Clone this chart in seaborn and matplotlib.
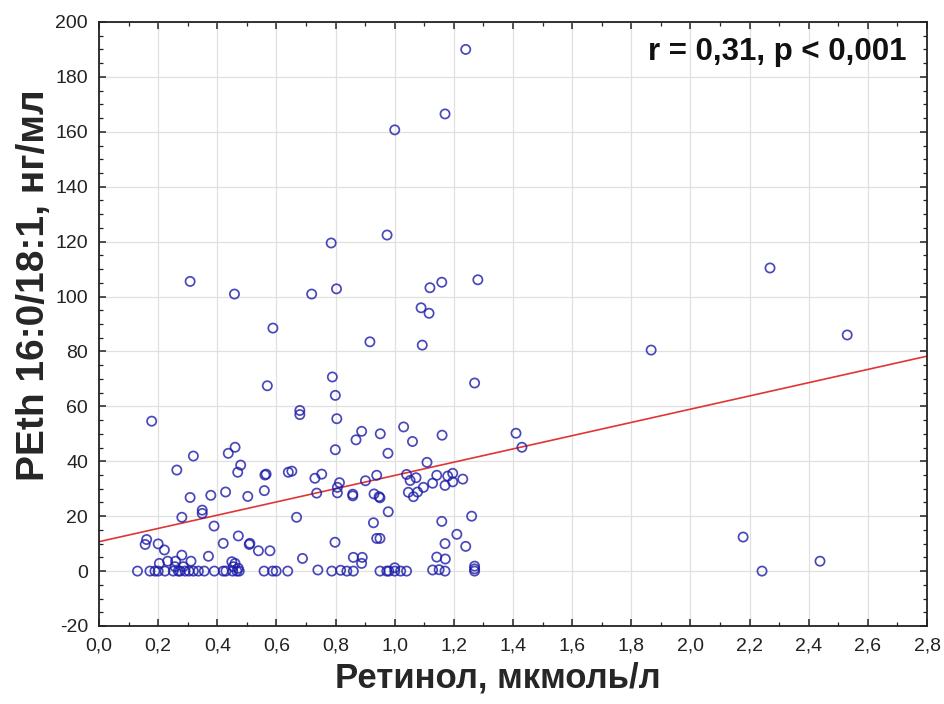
import numpy as np
import pandas as pd
import matplotlib
matplotlib.use("Agg")
import matplotlib.pyplot as plt
import seaborn as sns
from matplotlib.ticker import MultipleLocator, FuncFormatter

# ---- data ----
retinol = [
    1.24, 1.17, 1.00, 0.974, 0.785,
    0.308, 0.458, 0.588, 0.719, 0.803, 1.089, 1.116, 1.119, 1.159, 1.281, 0.916, 1.093,
    0.178, 0.569, 0.679, 0.679, 0.46, 0.437, 0.319, 0.263, 0.479, 0.469, 0.561, 0.565,
    0.64, 0.652, 0.73, 0.753, 0.308, 0.378, 0.428, 0.503, 0.559, 0.736, 0.349,
    0.789, 0.799, 0.804, 1.27, 0.888, 0.869, 0.951, 1.03, 1.06, 1.16, 0.799, 0.977, 1.109,
    0.813, 0.806, 0.806, 0.858, 0.858, 0.901, 0.939, 0.93, 0.947, 0.95, 0.978,
    1.04, 1.052, 1.072, 1.046, 1.063, 1.077, 1.097, 1.128, 1.142, 1.17, 1.179, 1.196, 1.196, 1.23,
    1.41, 1.43, 1.159, 1.26, 1.21, 1.17, 1.24, 0.95, 1.142, 1.171,
    0.95, 0.98, 1.00, 1.00, 1.02, 1.04, 1.128, 1.15, 1.17, 1.27, 1.27, 1.27,
    0.668, 0.928, 0.939, 0.798, 0.51, 0.539, 0.578, 0.688, 0.86, 0.89, 0.888,
    0.558, 0.587, 0.599, 0.638, 0.74, 0.787, 0.817, 0.838, 0.86, 0.973,
    0.28, 0.349, 0.389, 0.161, 0.156, 0.2, 0.221, 0.42, 0.471, 0.508, 0.28, 0.37,
    0.204, 0.232, 0.259, 0.311, 0.285, 0.257, 0.449, 0.46, 0.454, 0.471,
    0.13, 0.172, 0.189, 0.2, 0.223, 0.251, 0.268, 0.274, 0.291, 0.304, 0.319, 0.336,
    0.356, 0.39, 0.42, 0.429, 0.452, 0.474, 0.466,
    1.867, 2.269, 2.53, 2.178, 2.242, 2.438,
]
peth = [
    190, 166.5, 160.7, 122.4, 119.5,
    105.5, 100.9, 88.5, 100.9, 102.8, 95.9, 93.9, 103.2, 105.2, 106.1, 83.5, 82.3,
    54.6, 67.5, 58.5, 57.0, 45.1, 42.9, 41.9, 36.8, 38.6, 36.0, 35.0, 35.3,
    36.0, 36.4, 33.8, 35.3, 26.8, 27.6, 28.8, 27.2, 29.3, 28.4, 22.2,
    70.7, 64.0, 55.5, 68.5, 50.9, 47.8, 50.0, 52.5, 47.2, 49.5, 44.2, 42.9, 39.6,
    32.2, 30.5, 28.5, 28.0, 27.4, 32.9, 34.9, 28.1, 27.1, 26.7, 21.6,
    35.2, 33.0, 34.0, 28.7, 27.1, 28.8, 30.5, 32.0, 34.9, 31.2, 34.6, 35.6, 32.5, 33.5,
    50.2, 45.1, 18.1, 20.0, 13.4, 10.0, 9.0, 11.9, 5.1, 4.4,
    0, 0, 1.2, 0, 0, 0, 0.4, 0.5, 0, 1.8, 0.8, 0,
    19.6, 17.6, 11.9, 10.5, 10.1, 7.4, 7.4, 4.6, 5.0, 5.0, 2.8,
    0, 0, 0, 0, 0.4, 0, 0.3, 0, 0, 0,
    19.6, 21.0, 16.4, 11.5, 9.7, 9.9, 7.7, 10.1, 12.8, 9.7, 5.8, 5.4,
    2.8, 3.6, 3.6, 3.6, 1.6, 1.6, 3.4, 2.8, 1.6, 1.0,
    0, 0, 0, 0, 0, 0, 0, 0, 0, 0, 0, 0,
    0, 0, 0, 0, 0, 0, 0,
    80.5, 110.4, 86.0, 12.4, 0, 3.6,
]
x_ticks = [0.0, 0.2, 0.4, 0.6, 0.8, 1.0, 1.2, 1.4, 1.6, 1.8, 2.0, 2.2, 2.4, 2.6, 2.8]
y_ticks = [-20, 0, 20, 40, 60, 80, 100, 120, 140, 160, 180, 200]
x_label = "Ретинол, мкмоль/л"
y_label = "PEth 16:0/18:1, нг/мл"
stat_text = "r = 0,31, p < 0,001"

df = pd.DataFrame({"retinol": retinol, "peth": peth})

sns.set_theme(style="white")
plt.rcParams["font.family"] = ["Liberation Sans", "DejaVu Sans"]

fig = plt.figure(figsize=(9.45, 7.04), dpi=100)
ax = fig.add_axes([0.1048, 0.1108, 0.8762, 0.858])
ax.set_xlim(x_ticks[0], x_ticks[-1])
ax.set_ylim(y_ticks[0], y_ticks[-1])

sns.regplot(
    data=df, x="retinol", y="peth", ax=ax, ci=None, truncate=False,
    scatter_kws=dict(s=44, facecolors="none", edgecolors="#1c1ca8", linewidths=1.25, zorder=3),
    line_kws=dict(color="#e03535", lw=1.2, zorder=2),
)

ax.set_xlim(x_ticks[0], x_ticks[-1])
ax.set_ylim(y_ticks[0], y_ticks[-1])
ax.set_xticks(x_ticks)
ax.set_yticks(y_ticks)
ax.xaxis.set_minor_locator(MultipleLocator(0.1))
ax.yaxis.set_minor_locator(MultipleLocator(5))
ax.xaxis.set_major_formatter(FuncFormatter(lambda v, p: f"{v:.1f}".replace(".", ",")))
ax.yaxis.set_major_formatter(FuncFormatter(lambda v, p: f"{int(round(v))}"))

ax.grid(True, which="major", color="#e0e0e0", lw=0.9, zorder=0)
ax.set_axisbelow(True)
for sp in ax.spines.values():
    sp.set_visible(True)
    sp.set_color("#222222")
    sp.set_linewidth(1.3)

ax.tick_params(which="both", direction="in", top=True, right=True, bottom=True, left=True,
               colors="#222222", labelcolor="#222222")
ax.tick_params(which="major", length=5, width=1.1, labelsize=14, pad=8)
ax.tick_params(which="minor", length=3, width=0.9)

ax.set_xlabel(x_label, fontsize=25, fontweight="bold")
ax.set_ylabel(y_label, fontsize=28, fontweight="bold")
ax.xaxis.set_label_coords(0.482, -0.058)
ax.yaxis.set_label_coords(-0.057, 0.565)

ax.text(0.975, 0.975, stat_text, transform=ax.transAxes, ha="right", va="top",
        fontsize=22.5, fontweight="bold", color="#111111")

fig.savefig("out.png", dpi=100)
